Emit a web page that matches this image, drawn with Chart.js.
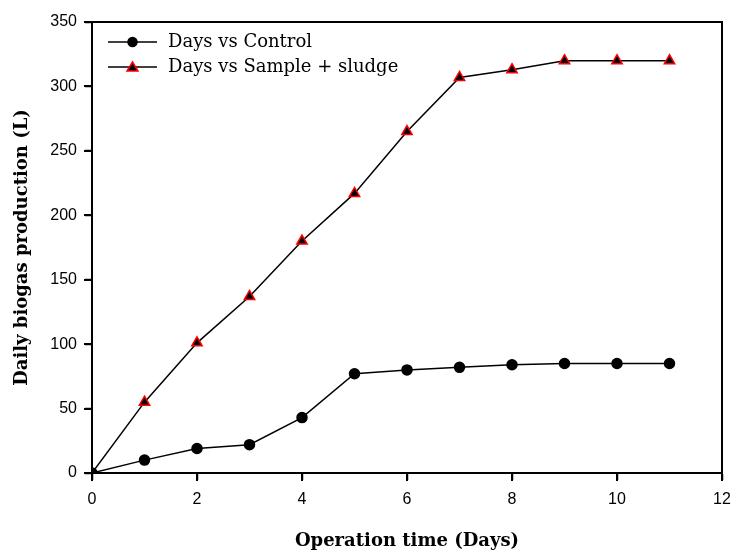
<!DOCTYPE html>
<html>
<head>
  <meta charset="UTF-8">
  <title>Daily biogas production</title>
  <script src="https://cdn.jsdelivr.net/npm/chart.js"></script>
  <style>
    body { margin: 0; background: #fff; }
    #wrap { width: 732px; height: 551px; }
  </style>
</head>
<body>
  <div id="wrap"><canvas id="chart" width="732" height="551"></canvas></div>
  <script>
    // datos
    const days = [0, 1, 2, 3, 4, 5, 6, 7, 8, 9, 10, 11];
    const control = [0, 10, 19, 22, 43, 77, 80, 82, 84, 85, 85, 85];
    const sampleSludge = [0, 55, 101, 137, 180, 217, 265, 307, 313, 320, 320, 320];
    const seriesNames = ["Days vs Control", "Days vs Sample + sludge"];

    const serif = "'DejaVu Serif', 'Liberation Serif', serif";
    const sans = "'Liberation Sans', Arial, sans-serif";

    // marco, marcas de los ejes hacia afuera y leyenda dentro del grafico
    const frameAndLegend = {
      id: "frameAndLegend",
      afterDraw(chart) {
        const ctx = chart.ctx;
        const a = chart.chartArea;
        ctx.save();
        ctx.strokeStyle = "#000";
        ctx.lineWidth = 2;
        ctx.strokeRect(a.left, a.top, a.right - a.left, a.bottom - a.top);

        // marcas de los ticks
        ctx.beginPath();
        chart.scales.x.ticks.forEach(t => {
          const px = Math.round(chart.scales.x.getPixelForValue(t.value));
          ctx.moveTo(px, a.bottom);
          ctx.lineTo(px, a.bottom + 8);
        });
        chart.scales.y.ticks.forEach(t => {
          const py = Math.round(chart.scales.y.getPixelForValue(t.value));
          ctx.moveTo(a.left, py);
          ctx.lineTo(a.left - 8, py);
        });
        ctx.stroke();

        chart.data.datasets.forEach((ds, i) => {
          const y = 42 + i * 25;
          const x0 = 108, x1 = 157;
          ctx.strokeStyle = "#000";
          ctx.lineWidth = 1.5;
          ctx.beginPath();
          ctx.moveTo(x0, y);
          ctx.lineTo(x1, y);
          ctx.stroke();
          ctx.fillStyle = ds.pointBackgroundColor;
          ctx.strokeStyle = ds.pointBorderColor;
          ctx.lineWidth = 1.5;
          const cx = (x0 + x1) / 2;
          ctx.beginPath();
          if (ds.pointStyle === "triangle") {
            ctx.moveTo(cx, y - 5);
            ctx.lineTo(cx + 5.5, y + 4);
            ctx.lineTo(cx - 5.5, y + 4);
            ctx.closePath();
          } else {
            ctx.arc(cx, y, 4.5, 0, Math.PI * 2);
          }
          ctx.fill();
          ctx.stroke();
          ctx.fillStyle = "#000";
          ctx.font = "18px " + serif;
          ctx.textBaseline = "middle";
          ctx.fillText(ds.label, 168, y);
        });
        ctx.restore();
      }
    };

    new Chart(document.getElementById("chart"), {
      type: "line",
      data: {
        datasets: [{
          label: seriesNames[0],
          data: days.map((d, i) => ({ x: d, y: control[i] })),
          borderColor: "#000",
          borderWidth: 1.5,
          pointStyle: "circle",
          pointRadius: 5,
          pointBackgroundColor: "#000",
          pointBorderColor: "#000",
          tension: 0
        }, {
          label: seriesNames[1],
          data: days.map((d, i) => ({ x: d, y: sampleSludge[i] })),
          borderColor: "#000",
          borderWidth: 1.5,
          pointStyle: "triangle",
          pointRadius: 6,
          pointBackgroundColor: "#000",
          pointBorderColor: "#ff0000",
          pointBorderWidth: 1.5,
          tension: 0
        }]
      },
      options: {
        responsive: false,
        animation: false,
        layout: { padding: { top: 22, right: 10, left: 0, bottom: 0 } },
        plugins: {
          legend: { display: false },
          tooltip: { enabled: false }
        },
        scales: {
          x: {
            type: "linear",
            min: 0,
            max: 12,
            ticks: { stepSize: 2, color: "#000", font: { family: sans, size: 16 }, padding: 10 },
            grid: { drawOnChartArea: false, tickLength: 7, tickColor: "#000", tickWidth: 1.5, color: "#000" },
            border: { color: "#000", width: 2 },
            title: {
              display: true,
              text: "Operation time (Days)",
              color: "#000",
              font: { family: serif, size: 18, weight: "bold", lineHeight: 1.05 },
              padding: { top: 0, bottom: 0 }
            },
            afterFit(s) {
              s.height = 78;
              s.paddingLeft = 0;
              s.paddingRight = 0;
            }
          },
          y: {
            min: 0,
            max: 350,
            ticks: { stepSize: 50, color: "#000", font: { family: sans, size: 16 }, padding: 8 },
            grid: { drawOnChartArea: false, tickLength: 7, tickColor: "#000", tickWidth: 1.5, color: "#000" },
            border: { color: "#000", width: 2 },
            title: {
              display: true,
              text: "Daily biogas production (L)",
              color: "#000",
              font: { family: serif, size: 18, weight: "bold" },
              padding: { top: 12, bottom: 10 }
            },
            afterFit(s) { s.width = 92; }
          }
        }
      },
      plugins: [frameAndLegend]
    });
  </script>
</body>
</html>
